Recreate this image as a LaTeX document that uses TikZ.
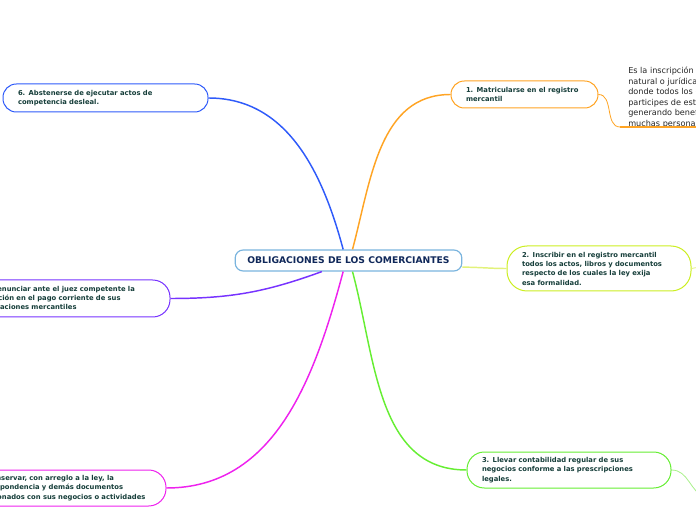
\documentclass[tikz,border=0pt]{standalone}
\usepackage{fontspec}
\setmainfont{DejaVu Sans}
\definecolor{rootline}{HTML}{7AB4DE}
\definecolor{roottext}{HTML}{10285A}
\definecolor{nodetext}{HTML}{163E3A}
\definecolor{cblue}{HTML}{2F5BFA}
\definecolor{corange}{HTML}{FFA424}
\definecolor{cyellow}{HTML}{CCEE22}
\definecolor{cyellowlt}{HTML}{E2F27A}
\definecolor{cgreen}{HTML}{66EE33}
\definecolor{cgreenlt}{HTML}{A8F08A}
\definecolor{cmagenta}{HTML}{EE22EE}
\definecolor{cpurple}{HTML}{7733FF}
\begin{document}
\begin{tikzpicture}[x=0.75pt, y=-0.75pt,
  root/.style={draw=rootline, line width=0.9pt, rounded corners=6pt, fill=white,
    minimum width=170pt, minimum height=15.75pt, inner sep=0pt,
    font=\bfseries\fontsize{6.9}{7.5}\selectfont, text=roottext},
  branch/.style={draw=#1, line width=0.75pt, rounded corners=10pt, fill=white,
    inner xsep=11.25pt, inner ysep=0pt, align=left,
    font=\bfseries\fontsize{5.1}{7}\selectfont, text=nodetext},
  link/.style={draw=#1, line width=1.1pt},
  sublink/.style={draw=#1, line width=0.6pt}]
\useasboundingbox (0,0) rectangle (696,520);
\clip (0,0) rectangle (696,520);
% main topic
\node (root) [root] at (348.5,260.5) {OBLIGACIONES DE LOS COMERCIANTES};
% branches
\node (matricula) [branch=corange, text width=87.75pt, minimum height=20.25pt] at (524.5,94.5)
  {1. Matricularse en el registro\\mercantil};
\node (inscribir) [branch=cyellow, rounded corners=15pt, text width=115.5pt, minimum height=33.75pt] at (599,268.5)
  {2. Inscribir en el registro mercantil\\todos los actos, libros y documentos\\respecto de los cuales la ley exija\\esa formalidad.};
\node (contabilidad) [branch=cgreen, rounded corners=13pt, text width=130.5pt, minimum height=27pt] at (569,470)
  {3. Llevar contabilidad regular de sus\\negocios conforme a las prescripciones\\legales.};
\node (conservar) [branch=cmagenta, rounded corners=13pt, text width=131.25pt, minimum height=27pt] at (63.5,488)
  {4. Conservar, con arreglo a la ley, la\\correspondencia y demás documentos\\relacionados con sus negocios o actividades};
\node (denunciar) [branch=cpurple, rounded corners=13pt, text width=130.5pt, minimum height=27.75pt] at (68,298.5)
  {5. Denunciar ante el juez competente la\\cesación en el pago corriente de sus\\obligaciones mercantiles};
\node (abstenerse) [branch=cblue, text width=131.25pt, minimum height=21pt] at (105.5,98)
  {6. Abstenerse de ejecutar actos de\\competencia desleal.};
% detail of branch 1
\node (detalle) [anchor=north west, align=left, inner sep=0pt,
  font=\fontsize{6.1}{7.9}\selectfont, text=black!85] at (628,67)
  {Es la inscripción\\natural o jurídica\\donde todos los c\\participes de esta\\generando benef\\muchas personas};
\coordinate (detalleA) at (620,127);
\coordinate (detalleB) at (710,127);
\coordinate (inscribirR) at (705,266);
\coordinate (contabilidadR) at (706,498);
% connectors
\draw[link=corange] ([xshift=3pt]root.north) to[out=75, in=180] (matricula.west);
\draw[link=cblue] ([xshift=-4pt]root.north) to[out=105, in=0] (abstenerse.east);
\draw[link=cyellowlt] ([yshift=-5pt]root.east) to[out=0, in=180] (inscribir.west);
\draw[link=cgreen] ([xshift=3pt]root.south) to[out=-75, in=180] (contabilidad.west);
\draw[link=cmagenta] ([xshift=-4pt]root.south) to[out=-105, in=0] (conservar.east);
\draw[link=cpurple] ([xshift=-20pt]root.south) to[out=-160, in=0] (denunciar.east);
\draw[sublink=corange] (matricula.east) to[out=0, in=180] (detalleA);
\draw[link=corange] (detalleA) -- (detalleB);
\draw[sublink=cyellowlt] (inscribir.east) -- (inscribirR);
\draw[sublink=cgreenlt] (contabilidad.east) to[out=0, in=160] (contabilidadR);
\end{tikzpicture}
\end{document}
